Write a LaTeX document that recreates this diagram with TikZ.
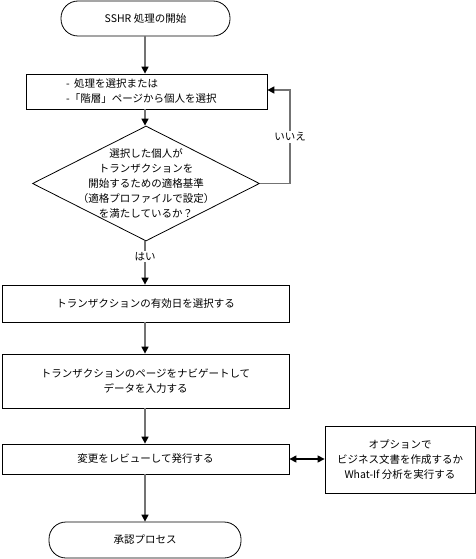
\documentclass[tikz,border=0pt]{standalone}
\usepackage{fontspec}
\setmainfont{Noto Sans CJK JP}
\usetikzlibrary{shapes.geometric,arrows.meta}
\definecolor{linegray}{RGB}{115,115,115}
\begin{document}
\begin{tikzpicture}[x=1pt,y=-1pt,
  font=\fontsize{10.5pt}{15pt}\selectfont,
  box/.style={draw=black,line width=0.8pt,rectangle,inner sep=0pt,align=center},
  term/.style={box,rounded corners=17pt},
  conn/.style={draw=linegray,line width=1.5pt,-{Triangle[length=7pt,width=7pt,color=black]}},
  lbl/.style={fill=white,inner sep=1.5pt}]
\useasboundingbox (0,0) rectangle (476,559);
\node[term,minimum width=169pt,minimum height=35pt] (start) at (145.5,18.5) {SSHR 処理の開始};
\node[box,minimum width=241pt,minimum height=35pt] (sel) at (146.5,91.5) {};
\node[anchor=west,align=left,inner sep=0pt] (seltext) at (66,91.5) {-\hspace{0.4em}処理を選択または\\-「階層」ページから個人を選択};
\node[draw=black,line width=0.8pt,diamond,minimum width=227pt,minimum height=115pt,inner sep=0pt] (dec) at (146,183.5) {};
\node[align=center,inner sep=0pt] (dectext) at (dec.center) {選択した個人が\\トランザクションを\\開始するための適格基準\\（適格プロファイルで設定）\\を満たしているか？};
\node[box,minimum width=287pt,minimum height=37pt] (date) at (145.5,303.5) {トランザクションの有効日を選択する};
\node[box,minimum width=287pt,minimum height=54pt] (nav) at (145.5,381) {トランザクションのページをナビゲートして\\データを入力する};
\node[box,minimum width=287pt,minimum height=30pt] (rev) at (145.5,459) {変更をレビューして発行する};
\node[box,minimum width=150pt,minimum height=67pt] (opt) at (400,459.5) {オプションで\\ビジネス文書を作成するか\\What-If 分析を実行する};
\node[term,minimum width=192pt,minimum height=36pt] (fin) at (145,540) {承認プロセス};
\coordinate (c1) at (290,183.5);
\coordinate (c2) at (290,90);
\draw[conn] (start.south -| 145,0) -- (145,0 |- sel.north);
\draw[conn] (sel.south -| 145,0) -- (dec.north -| 145,0);
\draw[conn] (dec.east) -- (c1) -- node[lbl,pos=0.5] {いいえ} (c2) -- (sel.east |- c2);
\draw[conn] (dec.south -| 145,0) -- node[lbl,pos=0.35] {はい} (date.north -| 145,0);
\draw[conn] (date.south -| 145,0) -- (nav.north -| 145,0);
\draw[conn] (nav.south -| 145,0) -- (rev.north -| 145,0);
\draw[conn] (rev.south -| 145,0) -- (fin.north -| 145,0);
\draw[draw=black,line width=1.2pt,{Triangle[length=7pt,width=7pt]}-{Triangle[length=7pt,width=7pt]}] (rev.east) -- (opt.west |- rev.east);
\end{tikzpicture}
\end{document}
